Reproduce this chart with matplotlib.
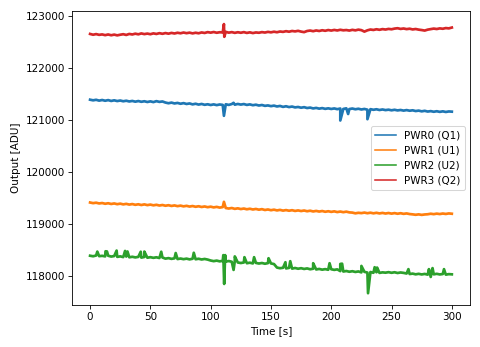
import numpy as np
import matplotlib.pyplot as plt

# time axis, one reading every 2.5 s
t = np.arange(0, 300.1, 2.5)

pwr0 = [121390, 121378, 121388, 121372, 121384, 121370, 121382, 121366, 121378, 121364,
        121374, 121360, 121370, 121356, 121366, 121352, 121364, 121350, 121360, 121346,
        121358, 121344, 121362, 121348, 121356, 121335, 121322, 121334, 121318, 121328,
        121312, 121324, 121308, 121318, 121300, 121312, 121296, 121308, 121292, 121302,
        121288, 121300, 121286, 121298, 121290, 121302, 121290, 121306, 121294, 121308,
        121296, 121306, 121290, 121300, 121284, 121294, 121278, 121288, 121272, 121280,
        121266, 121276, 121260, 121270, 121252, 121264, 121248, 121258, 121242, 121250,
        121236, 121246, 121230, 121238, 121222, 121232, 121218, 121228, 121214, 121224,
        121212, 121222, 121208, 121220, 121212, 121224, 121210, 121220, 121206, 121216,
        121202, 121212, 121198, 121208, 121196, 121206, 121192, 121202, 121190, 121198,
        121186, 121196, 121184, 121192, 121180, 121190, 121178, 121186, 121172, 121180,
        121166, 121176, 121162, 121170, 121158, 121168, 121156, 121166, 121154, 121164,
        121160]
pwr1 = [119412, 119400, 119408, 119394, 119402, 119388, 119398, 119384, 119394, 119380,
        119390, 119376, 119386, 119372, 119382, 119368, 119378, 119364, 119376, 119362,
        119372, 119358, 119368, 119354, 119364, 119350, 119360, 119346, 119356, 119342,
        119352, 119338, 119348, 119334, 119344, 119330, 119340, 119326, 119336, 119322,
        119332, 119318, 119328, 119314, 119324, 119306, 119296, 119306, 119290, 119300,
        119286, 119296, 119282, 119292, 119278, 119288, 119274, 119284, 119268, 119278,
        119264, 119274, 119260, 119270, 119256, 119266, 119254, 119264, 119250, 119260,
        119248, 119258, 119244, 119254, 119240, 119250, 119238, 119248, 119234, 119244,
        119232, 119242, 119228, 119238, 119226, 119236, 119222, 119218, 119204, 119214,
        119208, 119218, 119206, 119216, 119204, 119214, 119202, 119212, 119200, 119210,
        119198, 119208, 119196, 119206, 119194, 119202, 119190, 119184, 119176, 119184,
        119174, 119182, 119186, 119196, 119188, 119198, 119190, 119200, 119192, 119202,
        119196]
pwr2 = [118388, 118378, 118392, 118380, 118386, 118376, 118388, 118372, 118382, 118366,
        118376, 118362, 118372, 118358, 118368, 118356, 118366, 118352, 118364, 118350,
        118360, 118348, 118358, 118344, 118354, 118332, 118342, 118328, 118338, 118324,
        118334, 118322, 118332, 118318, 118330, 118320, 118330, 118316, 118326, 118314,
        118296, 118284, 118294, 118280, 118290, 118276, 118286, 118272, 118282, 118258,
        118248, 118258, 118244, 118254, 118240, 118250, 118238, 118248, 118234, 118246,
        118240, 118228, 118160, 118148, 118156, 118144, 118154, 118140, 118152, 118138,
        118148, 118134, 118144, 118128, 118138, 118124, 118134, 118120, 118130, 118118,
        118128, 118116, 118126, 118092, 118084, 118094, 118080, 118090, 118076, 118086,
        118068, 118078, 118064, 118074, 118060, 118070, 118058, 118068, 118062, 118072,
        118060, 118070, 118056, 118066, 118058, 118046, 118036, 118044, 118030, 118040,
        118028, 118038, 118024, 117980, 118030, 118040, 118028, 118036, 118024, 118034,
        118030]
pwr3 = [122655, 122640, 122652, 122638, 122646, 122632, 122645, 122630, 122642, 122628,
        122640, 122650, 122636, 122655, 122645, 122660, 122648, 122665, 122652, 122662,
        122650, 122666, 122655, 122670, 122658, 122672, 122660, 122675, 122664, 122678,
        122668, 122682, 122670, 122680, 122666, 122678, 122668, 122684, 122674, 122690,
        122680, 122692, 122678, 122688, 122684, 122695, 122680, 122690, 122676, 122688,
        122678, 122690, 122675, 122686, 122672, 122684, 122678, 122690, 122682, 122695,
        122686, 122698, 122688, 122702, 122695, 122708, 122698, 122712, 122704, 122715,
        122700, 122690, 122712, 122720, 122708, 122722, 122712, 122726, 122716, 122730,
        122720, 122732, 122722, 122735, 122725, 122730, 122720, 122734, 122724, 122738,
        122728, 122700, 122725, 122740, 122732, 122745, 122735, 122748, 122740, 122752,
        122745, 122758, 122765, 122752, 122760, 122748, 122756, 122742, 122750, 122738,
        122730, 122720, 122738, 122748, 122758, 122750, 122762, 122755, 122768, 122762,
        122778]

# glitches (time, value)
spk0_t = [111.0, 119.0, 207.5, 214.0, 230.0]
spk0_v = [121080, 121330, 120990, 121115, 121015]
spk1_t = [111.0]
spk1_v = [119425]
spk2_t = [6.0, 12.8, 14.0, 22.0, 29.0, 31.0, 42.0, 45.0, 59.0, 71.0, 86.0, 110.5, 111.2,
          112.0, 119.0, 120.0, 128.0, 136.0, 148.0, 162.0, 166.0, 185.0, 198.6, 207.5,
          209.0, 225.0, 230.5, 236.0, 238.0, 264.0, 281.0, 284.0, 293.5]
spk2_v = [118468, 118474, 118470, 118487, 118480, 118470, 118465, 118468, 118465, 118440,
          118445, 118400, 117845, 118400, 118115, 118375, 118360, 118360, 118340, 118263,
          118283, 118244, 118244, 118230, 118235, 118192, 117667, 118167, 118160, 118130,
          118130, 118150, 118130]
spk3_t = [111.0, 111.3]
spk3_v = [122845, 122600]

labels = ['PWR0 (Q1)', 'PWR1 (U1)', 'PWR2 (U2)', 'PWR3 (Q2)']


def merge(base, st, sv):
    x = np.concatenate([t, st])
    y = np.concatenate([base, sv])
    o = np.argsort(x, kind='stable')
    return x[o], y[o]


fig = plt.figure(figsize=(6.4, 4.627), dpi=75)
ax = fig.add_axes([0.15, 0.121, 0.829, 0.847])

series = [(pwr0, spk0_t, spk0_v), (pwr1, spk1_t, spk1_v),
          (pwr2, spk2_t, spk2_v), (pwr3, spk3_t, spk3_v)]
for (vals, st, sv), lab in zip(series, labels):
    x, y = merge(vals, st, sv)
    ax.plot(x, y, lw=2.6, label=lab)

ax.set_xlim(-15, 315)
ax.set_ylim(117440, 123095)
ax.set_xlabel('Time [s]')
ax.set_ylabel('Output [ADU]')
leg = ax.legend(loc='center right')
for h in leg.get_lines():
    h.set_linewidth(1.5)

fig.savefig('out.png', dpi=75)
